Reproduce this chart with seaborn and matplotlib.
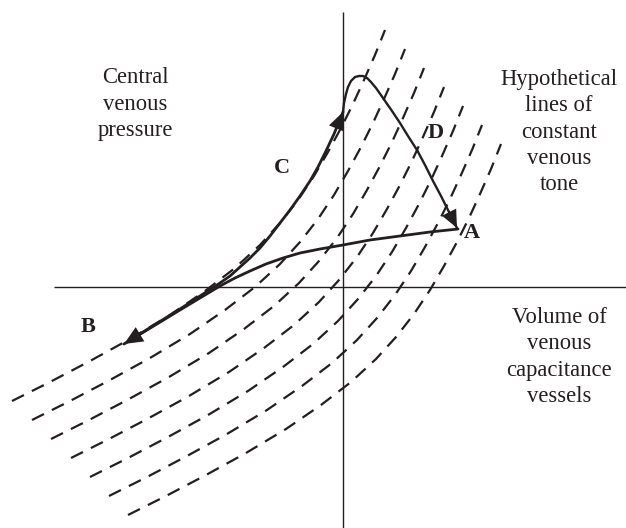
import pandas as pd
import seaborn as sns
import matplotlib.pyplot as plt

# --- data (pixel coords, y pointing down) ---
# first line of constant venous tone
tone_x = [12, 50, 90, 130, 170, 205, 235, 260, 280, 298, 314, 328, 341, 353, 364, 375, 385]
tone_y = [401, 382, 361, 339, 315, 291, 268, 245, 223, 200, 176, 152, 128, 104, 80, 55, 30]
# shift of each of the 7 tone lines relative to the first one
tone_dx = [0, 20, 39, 59, 78, 97, 116]
tone_dy = [0, 19, 38, 57, 76, 95, 114]

# path A -> B
ab_x = [458, 430, 400, 370, 343, 320, 300, 283, 266, 250, 235, 220, 200, 180, 124]
ab_y = [229, 232, 236, 240, 245, 249, 253, 258, 264, 271, 278, 286, 298, 310, 344]
# path B -> C
c_x = [135, 180, 220, 230, 240, 250, 260, 270, 280, 290, 300, 310, 318, 326, 334, 343]
c_y = [337, 309, 283, 276, 267, 258, 248, 236, 223, 210, 196, 181, 167, 151, 134, 112]
# path C -> D -> A
d_x = [343, 344, 346, 348, 351, 355, 359, 363, 367, 371, 376, 383, 392, 400, 408,
       417, 425, 433, 441, 449, 457]
d_y = [112, 103, 94, 87, 81, 77, 76, 76, 78, 82, 88, 98, 111, 123, 136,
       150, 165, 181, 196, 212, 228]

point_labels = ["A", "B", "C", "D"]
label_x = [472, 88, 282, 436]
label_y = [233, 327, 168, 133]

txt_pressure = "Central\nvenous\npressure"
txt_tone = "Hypothetical\nlines of\nconstant\nvenous\ntone"
txt_volume = "Volume of\nvenous\ncapacitance\nvessels"

# --- table for the dashed lines ---
rows = []
for i in range(len(tone_dx)):
    for x, y in zip(tone_x, tone_y):
        rows.append({"tone": i, "x": x + tone_dx[i], "y": y + tone_dy[i]})
df_tone = pd.DataFrame(rows)

sns.set_style("white")
plt.rcParams["font.family"] = ["Liberation Serif", "DejaVu Serif"]
ink = "#231f20"

fig = plt.figure(figsize=(6.26, 5.28), dpi=100)
ax = fig.add_axes([0, 0, 1, 1])
ax.set_xlim(0, 626)
ax.set_ylim(528, 0)
ax.axis("off")

# axes of the diagram
ax.vlines(343, 12, 528, color=ink, lw=1.0)
ax.hlines(287, 54, 626, color=ink, lw=1.0)

# lines of constant venous tone
sns.lineplot(data=df_tone, x="x", y="y", units="tone", estimator=None, sort=False,
             color=ink, lw=1.6, linestyle=(0, (6.0, 4.0)), legend=False, ax=ax)

# solid paths
sns.lineplot(x=ab_x, y=ab_y, sort=False, estimator=None, color=ink, lw=2.0, ax=ax)
sns.lineplot(x=c_x, y=c_y, sort=False, estimator=None, color=ink, lw=2.0, ax=ax)
sns.lineplot(x=d_x, y=d_y, sort=False, estimator=None, color=ink, lw=1.7, ax=ax)

# arrow heads
def head(xs, ys, length=0.85, width=0.38):
    ax.annotate("", xy=(xs[-1], ys[-1]), xytext=(xs[-2], ys[-2]),
                arrowprops=dict(arrowstyle=f"-|>,head_length={length},head_width={width}",
                                mutation_scale=15, color=ink, lw=0,
                                shrinkA=0, shrinkB=0))

head(ab_x, ab_y, 0.9, 0.4)
head(c_x, c_y)
head(d_x, d_y)

ax.set_xlabel("")
ax.set_ylabel("")

# texts
ax.text(135, 104, txt_pressure, ha="center", va="center", fontsize=16.3,
        linespacing=1.33, color=ink)
ax.text(559, 132, txt_tone, ha="center", va="center", fontsize=16.3,
        linespacing=1.33, color=ink)
ax.text(559, 357, txt_volume, ha="center", va="center", fontsize=16.3,
        linespacing=1.33, color=ink)
for lab, x, y in zip(point_labels, label_x, label_y):
    ax.text(x, y, lab, ha="center", va="center", fontsize=16, fontweight="bold", color=ink)

fig.savefig("out.png", dpi=100)
